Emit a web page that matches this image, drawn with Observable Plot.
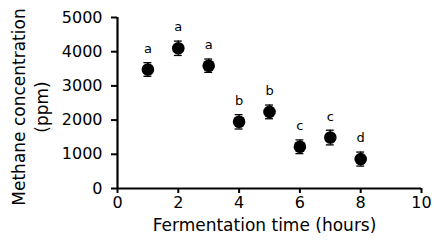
<!DOCTYPE html>
<html>
<head>
<meta charset="utf-8">
<script src="https://cdn.jsdelivr.net/npm/d3@7"></script>
<script src="https://cdn.jsdelivr.net/npm/@observablehq/plot@0.6"></script>
<style>
  html, body { margin: 0; padding: 0; background: #fff; }
  svg { display: block; }
</style>
</head>
<body>
<div id="chart"></div>
<script>
const hours = [1, 2, 3, 4, 5, 6, 7, 8];
const methane = [3480, 4100, 3590, 1950, 2240, 1220, 1490, 860];
const errors = [200, 210, 195, 210, 200, 200, 215, 205];
const groups = ["a", "a", "a", "b", "b", "c", "c", "d"];
const xTicks = [0, 2, 4, 6, 8, 10];
const yTicks = [0, 1000, 2000, 3000, 4000, 5000];

const data = hours.map((h, i) => ({
  h, v: methane[i], lo: methane[i] - errors[i], hi: methane[i] + errors[i], g: groups[i]
}));

const font = "DejaVu Sans, Verdana, sans-serif";
const capHalf = 0.13;

const chart = Plot.plot({
  width: 434,
  height: 243,
  marginLeft: 117,
  marginRight: 13,
  marginTop: 17,
  marginBottom: 55,
  style: { fontFamily: font, fontSize: "15px", color: "#000", background: "#fff" },
  x: { type: "linear", domain: [0, 10] },
  y: { type: "linear", domain: [0, 5000] },
  marks: [
    Plot.axisX({ ticks: xTicks, tickSize: 5, tickPadding: 3, tickFormat: d3.format("d"), strokeWidth: 2, fontSize: 16, label: null }),
    Plot.axisY({ ticks: yTicks, tickSize: 6, tickPadding: 9, tickFormat: d3.format("d"), strokeWidth: 2, fontSize: 16, label: null }),
    Plot.ruleY([0], { x1: 0, x2: 10, stroke: "#000", strokeWidth: 2.2 }),
    Plot.ruleX([0], { y1: 0, y2: 5000, stroke: "#000", strokeWidth: 2.2 }),
    Plot.ruleX(data, { x: "h", y1: "lo", y2: "hi", stroke: "#000", strokeWidth: 1.3 }),
    Plot.ruleY(data, { y: "hi", x1: d => d.h - capHalf, x2: d => d.h + capHalf, stroke: "#000", strokeWidth: 1.3 }),
    Plot.ruleY(data, { y: "lo", x1: d => d.h - capHalf, x2: d => d.h + capHalf, stroke: "#000", strokeWidth: 1.3 }),
    Plot.dot(data, { x: "h", y: "v", r: 6.3, fill: "#000", stroke: "none" }),
    Plot.text(data, { x: "h", y: "v", text: "g", dy: -21, fontSize: 13, fill: "#000" }),
    Plot.text(["Fermentation time (hours)"], { frameAnchor: "bottom", dx: -5, dy: 42, fontSize: 17, fill: "#000" }),
    Plot.text(["Methane concentration\n(ppm)"], { frameAnchor: "left", textAnchor: "middle", dx: -88, dy: 4, rotate: -90, fontSize: 17, lineHeight: 1.35, fill: "#000" })
  ]
});

document.getElementById("chart").appendChild(chart);
</script>
</body>
</html>
